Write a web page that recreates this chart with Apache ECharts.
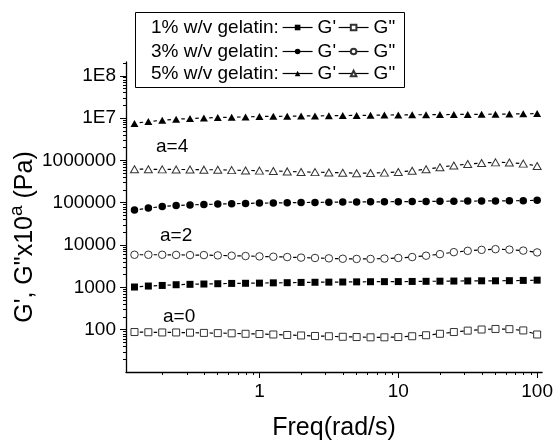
<!DOCTYPE html>
<html>
<head>
<meta charset="utf-8">
<script src="https://cdn.jsdelivr.net/npm/echarts@6/dist/echarts.min.js"></script>
<style>
html, body { margin: 0; padding: 0; background: #fff; }
#chart { width: 556px; height: 446px; }
</style>
</head>
<body>
<div id="chart"></div>
<script>
// 频率 (rad/s)
let freq = [0.1259, 0.1585, 0.1995, 0.2512, 0.3162, 0.3981, 0.5012, 0.631, 0.7943, 1,
    1.259, 1.585, 1.995, 2.512, 3.162, 3.981, 5.012, 6.31, 7.943, 10,
    12.59, 15.85, 19.95, 25.12, 31.62, 39.81, 50.12, 63.1, 79.43, 100];

// 1% w/v gelatin (a=0)
let g1Storage = [1020, 1075, 1110, 1155, 1180, 1200, 1220, 1240, 1250, 1260,
    1280, 1290, 1310, 1320, 1330, 1340, 1350, 1360, 1365, 1370,
    1380, 1390, 1400, 1410, 1420, 1430, 1430, 1440, 1460, 1480];
let g1Loss = [88, 87, 86, 86, 85, 84, 83, 82, 80, 79,
    77, 75, 73, 71, 70, 68, 67, 66, 66, 67,
    70, 74, 80, 88, 95, 101, 104, 103, 96, 77];

// 3% w/v gelatin (a=2)
let g3Storage = [67000, 75000, 81000, 86000, 89000, 91000, 93000, 95000, 96500, 98000,
    99000, 100000, 101000, 102000, 103000, 103500, 104000, 105000, 105500, 106000,
    107000, 107500, 108000, 109000, 109500, 110000, 110500, 111000, 112000, 114000];
let g3Loss = [5900, 5900, 5900, 5850, 5800, 5800, 5700, 5600, 5500, 5400,
    5300, 5200, 5050, 4950, 4850, 4750, 4700, 4700, 4800, 4950,
    5200, 5600, 6100, 6800, 7300, 7700, 8000, 7800, 7400, 6700];

// 5% w/v gelatin (a=4)
let g5Storage = [7.5e6, 8.3e6, 8.9e6, 9.4e6, 9.8e6, 1.01e7, 1.03e7, 1.05e7, 1.07e7, 1.09e7,
    1.10e7, 1.11e7, 1.12e7, 1.13e7, 1.14e7, 1.15e7, 1.16e7, 1.17e7, 1.18e7, 1.19e7,
    1.20e7, 1.20e7, 1.21e7, 1.22e7, 1.22e7, 1.23e7, 1.24e7, 1.25e7, 1.26e7, 1.28e7];
let g5Loss = [6.2e5, 6.2e5, 6.15e5, 6.1e5, 6.1e5, 6.05e5, 6.0e5, 5.9e5, 5.8e5, 5.75e5,
    5.65e5, 5.5e5, 5.35e5, 5.3e5, 5.2e5, 5.1e5, 5.0e5, 5.05e5, 5.15e5, 5.35e5,
    5.7e5, 6.2e5, 6.9e5, 7.6e5, 8.2e5, 8.7e5, 9.0e5, 8.9e5, 8.4e5, 7.4e5];

// 刻度
let xMajor = [1, 10, 100];
let xMajorLabels = ['1', '10', '100'];
let xMinor = [0.2, 0.3, 0.4, 0.5, 0.6, 0.7, 0.8, 0.9, 2, 3, 4, 5, 6, 7, 8, 9, 20, 30, 40, 50, 60, 70, 80, 90];
let yMajor = [100, 1000, 10000, 100000, 1000000, 1e7, 1e8];
let yMajorLabels = ['100', '1000', '10000', '100000', '1000000', '1E7', '1E8'];
let yMinor = [20, 30, 40, 50, 60, 70, 80, 90,
    200, 300, 400, 500, 600, 700, 800, 900,
    2000, 3000, 4000, 5000, 6000, 7000, 8000, 9000,
    20000, 30000, 40000, 50000, 60000, 70000, 80000, 90000,
    2e5, 3e5, 4e5, 5e5, 6e5, 7e5, 8e5, 9e5,
    2e6, 3e6, 4e6, 5e6, 6e6, 7e6, 8e6, 9e6,
    2e7, 3e7, 4e7, 5e7, 6e7, 7e7, 8e7, 9e7, 2e8];

let xMin = 0.1094, xMax = 108.6;
let yMin = 10, yMax = 2.12e8;

let font = '"Liberation Sans", Arial, sans-serif';

function pairs(ys) {
    return freq.map(function (f, i) { return [f, ys[i]]; });
}

function makeSeries(name, ys, symbol, size, open) {
    return {
        name: name,
        type: 'line',
        data: pairs(ys),
        symbol: symbol,
        symbolSize: size,
        showAllSymbol: true,
        itemStyle: open ? { color: '#fff', borderColor: '#333', borderWidth: 1 } : { color: '#000' },
        lineStyle: { color: '#000', width: 1.2, type: [3.5, 10.45], dashOffset: 8.7 },
        emphasis: { disabled: true }
    };
}

function legendRow(names, top) {
    return {
        data: names,
        left: 282,
        top: top,
        orient: 'horizontal',
        padding: 0,
        itemWidth: 30,
        itemHeight: 7,
        itemGap: 2,
        selectedMode: false,
        lineStyle: { type: 'solid', width: 1.2 },
        textStyle: { fontSize: 19, fontFamily: font, color: '#000' },
        formatter: function (name) { return name.split(' ')[1]; }
    };
}

let myChart = echarts.init(document.getElementById('chart'));

let option = {
    animation: false,
    backgroundColor: '#fff',
    grid: { left: 126, right: 12, top: 62, bottom: 69 },
    xAxis: [
        {
            type: 'log',
            min: xMin,
            max: xMax,
            name: 'Freq(rad/s)',
            nameLocation: 'middle',
            nameGap: 44,
            nameTextStyle: { fontSize: 25, fontFamily: font, color: '#000' },
            axisLine: { lineStyle: { color: '#000', width: 1.3 } },
            axisTick: { customValues: xMajor, length: 6, lineStyle: { color: '#000', width: 1 } },
            axisLabel: {
                customValues: xMajor,
                margin: 10,
                fontSize: 19,
                fontFamily: font,
                color: '#000',
                formatter: function (v) { return xMajorLabels[xMajor.indexOf(v)]; }
            },
            splitLine: { show: false }
        },
        {
            type: 'log',
            min: xMin,
            max: xMax,
            position: 'bottom',
            axisLine: { show: false },
            axisTick: { customValues: xMinor, length: 3, lineStyle: { color: '#000', width: 1 } },
            axisLabel: { show: false },
            splitLine: { show: false }
        }
    ],
    yAxis: [
        {
            type: 'log',
            min: yMin,
            max: yMax,
            axisLine: { show: true, lineStyle: { color: '#000', width: 1.3 } },
            axisTick: { show: true, customValues: yMajor, length: 6, lineStyle: { color: '#000', width: 1 } },
            axisLabel: {
                customValues: yMajor,
                margin: 10,
                fontSize: 19,
                fontFamily: font,
                color: '#000',
                formatter: function (v) {
                    let i = yMajor.findIndex(function (m) { return Math.abs(m - v) / m < 1e-6; });
                    return i < 0 ? '' : yMajorLabels[i];
                }
            },
            splitLine: { show: false }
        },
        {
            type: 'log',
            min: yMin,
            max: yMax,
            position: 'left',
            axisLine: { show: false },
            axisTick: { show: true, customValues: yMinor, length: 3, lineStyle: { color: '#000', width: 1 } },
            axisLabel: { show: false },
            splitLine: { show: false }
        }
    ],
    legend: [
        legendRow(["1% G'", '1% G"'], 18),
        legendRow(["3% G'", '3% G"'], 42),
        legendRow(["5% G'", '5% G"'], 64)
    ],
    graphic: [
        {
            type: 'rect',
            shape: { x: 135.5, y: 12.5, width: 269, height: 75 },
            style: { fill: 'none', stroke: '#000', lineWidth: 1 },
            z: 100
        },
        { type: 'text', x: 151, y: 28, style: { text: '1% w/v gelatin:', font: '19px ' + font, fill: '#000', verticalAlign: 'middle' }, z: 100 },
        { type: 'text', x: 151, y: 52, style: { text: '3% w/v gelatin:', font: '19px ' + font, fill: '#000', verticalAlign: 'middle' }, z: 100 },
        { type: 'text', x: 151, y: 74, style: { text: '5% w/v gelatin:', font: '19px ' + font, fill: '#000', verticalAlign: 'middle' }, z: 100 },
        { type: 'text', x: 156, y: 147, style: { text: 'a=4', font: '19px ' + font, fill: '#000', verticalAlign: 'middle' } },
        { type: 'text', x: 160, y: 236, style: { text: 'a=2', font: '19px ' + font, fill: '#000', verticalAlign: 'middle' } },
        { type: 'text', x: 163, y: 317, style: { text: 'a=0', font: '19px ' + font, fill: '#000', verticalAlign: 'middle' } },
        {
            type: 'text',
            x: 25,
            y: 237,
            rotation: Math.PI / 2,
            style: {
                text: '{m|G\', G"x10}{s|a}{m| (Pa)}',
                align: 'center',
                verticalAlign: 'middle',
                rich: {
                    m: { fontSize: 25, fontFamily: font, fill: '#000', color: '#000' },
                    s: { fontSize: 19, fontFamily: font, fill: '#000', color: '#000', padding: [0, 0, 16, 0] }
                }
            }
        }
    ],
    series: [
        makeSeries("1% G'", g1Storage, 'rect', 7, false),
        makeSeries('1% G"', g1Loss, 'rect', 7, true),
        makeSeries("3% G'", g3Storage, 'circle', 7.5, false),
        makeSeries('3% G"', g3Loss, 'circle', 7.5, true),
        makeSeries("5% G'", g5Storage, 'triangle', [8, 7], false),
        makeSeries('5% G"', g5Loss, 'triangle', [8, 7], true)
    ]
};

myChart.setOption(option);
</script>
</body>
</html>
